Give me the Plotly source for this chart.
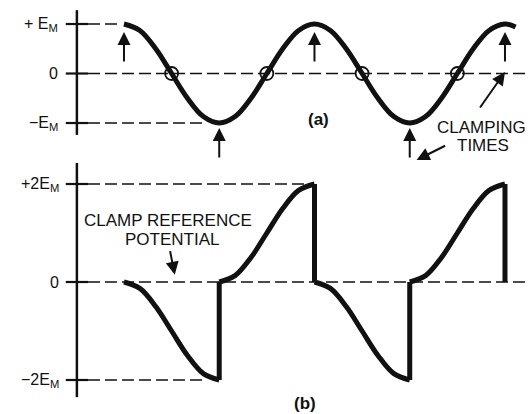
import plotly.graph_objects as go

# ---- data: phase in degrees, voltage in units of E_M ----
# (a) input sine wave
phase_a = [0, 30, 60, 90, 120, 150, 180, 210, 240, 270, 300, 330, 360,
           390, 420, 450, 480, 510, 540, 570, 600, 630, 660, 690, 720, 740]
volts_a = [1.0, 0.87, 0.5, 0.0, -0.5, -0.87, -1.0, -0.87, -0.5, 0.0, 0.5, 0.87, 1.0,
           0.87, 0.5, 0.0, -0.5, -0.87, -1.0, -0.87, -0.5, 0.0, 0.5, 0.87, 1.0, 0.94]
zero_crossings = [90, 270, 450, 630]
clamp_peaks = [0, 360, 720]
clamp_troughs = [180, 540]

# (b) clamped output: smooth runs between clamping times ...
phase_b1 = [0, 30, 60, 90, 120, 150, 180]
volts_b1 = [0.0, -0.13, -0.5, -1.0, -1.5, -1.87, -2.0]
phase_b2 = [180, 210, 240, 270, 300, 330, 360]
volts_b2 = [0.0, 0.13, 0.5, 1.0, 1.5, 1.87, 2.0]
phase_b3 = [360, 390, 420, 450, 480, 510, 540]
volts_b3 = [0.0, -0.13, -0.5, -1.0, -1.5, -1.87, -2.0]
phase_b4 = [540, 570, 600, 630, 660, 690, 720]
volts_b4 = [0.0, 0.13, 0.5, 1.0, 1.5, 1.87, 2.0]
# ... and the jumps back to the reference at each clamping time
jump_phase = [180, 360, 540, 720]
jump_from = [-2.0, 2.0, -2.0, 2.0]
jump_to = [0.0, 0.0, 0.0, 0.0]

levels_a = [1, 0, -1]
labels_a = ["+ E<sub>M</sub>", "0", "\u2212E<sub>M</sub>"]
levels_b = [2, 0, -2]
labels_b = ["+2E<sub>M</sub>", "0", "\u22122E<sub>M</sub>"]

INK = "#111111"
FONT = "Liberation Sans, Arial, sans-serif"

fig = go.Figure()

fig.add_trace(go.Scatter(x=phase_a, y=volts_a, mode="lines",
                         line=dict(color=INK, width=5, shape="spline", smoothing=1),
                         xaxis="x", yaxis="y", hoverinfo="skip"))
fig.add_trace(go.Scatter(x=zero_crossings, y=[0] * len(zero_crossings), mode="markers",
                         marker=dict(symbol="circle-open", size=13, color=INK,
                                     line=dict(width=1.8, color=INK)),
                         xaxis="x", yaxis="y", hoverinfo="skip"))
for px, vy in [(phase_b1, volts_b1), (phase_b2, volts_b2),
               (phase_b3, volts_b3), (phase_b4, volts_b4)]:
    fig.add_trace(go.Scatter(x=px, y=vy, mode="lines",
                             line=dict(color=INK, width=5, shape="spline", smoothing=1),
                             xaxis="x2", yaxis="y2", hoverinfo="skip"))
jx, jy = [], []
for p, a, b in zip(jump_phase, jump_from, jump_to):
    jx += [p, p, None]
    jy += [a, b, None]
fig.add_trace(go.Scatter(x=jx, y=jy, mode="lines", connectgaps=False,
                         line=dict(color=INK, width=5),
                         xaxis="x2", yaxis="y2", hoverinfo="skip"))

shapes = []
AXIS_X = -89
X_END = 763


def seg(x0, x1, y0, y1, yref, width=2.2, dash=None):
    d = dict(type="line", xref="x" if yref == "y" else "x2", yref=yref,
             x0=x0, x1=x1, y0=y0, y1=y1, layer="below",
             line=dict(color=INK, width=width))
    if dash:
        d["line"]["dash"] = dash
        d["line"]["width"] = 1.6
    return d


DASH = "12px,5px"
# (a) axis, ticks and reference levels
shapes.append(seg(AXIS_X, AXIS_X, -1.24, 1.28, "y", width=2.5))
for lv in levels_a:
    shapes.append(seg(-110, -68, lv, lv, "y"))
shapes.append(seg(-68, -11, 1, 1, "y", dash=DASH))
shapes.append(seg(-68, X_END, 0, 0, "y", dash=DASH))
shapes.append(seg(-68, 153, -1, -1, "y", dash=DASH))
# (b) axis, ticks and reference levels
shapes.append(seg(AXIS_X, AXIS_X, -2.35, 2.43, "y2", width=2.5))
for lv in levels_b:
    shapes.append(seg(-110, -68, lv, lv, "y2"))
shapes.append(seg(-68, 344, 2, 2, "y2", dash=DASH))
shapes.append(seg(-68, X_END, 0, 0, "y2", dash=DASH))
shapes.append(seg(-68, 153, -2, -2, "y2", dash=DASH))

annotations = []
for lv, txt in zip(levels_a, labels_a):
    annotations.append(dict(xref="paper", yref="y", x=60 / 528, y=lv, text=txt,
                            showarrow=False, xanchor="right", yanchor="middle",
                            font=dict(family=FONT, size=16, color=INK)))
for lv, txt in zip(levels_b, labels_b):
    annotations.append(dict(xref="paper", yref="y2", x=61 / 528, y=lv, text=txt,
                            showarrow=False, xanchor="right", yanchor="middle",
                            font=dict(family=FONT, size=16, color=INK)))


def arrow(x, y, ax, ay, xref="x", yref="y"):
    return dict(xref=xref, yref=yref, x=x, y=y, ax=ax, ay=ay, text="",
                showarrow=True, arrowhead=2, arrowsize=1.3, arrowwidth=2,
                arrowcolor=INK, standoff=0, startstandoff=0)


# clamping-time arrows under the peaks and troughs
for p in clamp_peaks:
    annotations.append(arrow(p, 0.84, 0, 31))
for p in clamp_troughs:
    annotations.append(arrow(p, -1.10, 0, 31))
annotations.append(arrow(720, 0.03, -26, 37))
annotations.append(arrow(553, 2.49, 30, -15, xref="x2", yref="y2"))
annotations.append(arrow(96, 0.15, -5, -25, xref="x2", yref="y2"))


def label(x, y, txt, size=15, bold=False):
    return dict(xref="paper", yref="paper", x=x / 528, y=1 - y / 414,
                text=f"<b>{txt}</b>" if bold else txt, showarrow=False,
                xanchor="center", yanchor="middle",
                font=dict(family=FONT, size=size, color=INK))


annotations.append(label(318, 120, "(a)", 17, bold=True))
annotations.append(label(481, 127, "CLAMPING", 17))
annotations.append(label(483, 145, "TIMES", 17))
annotations.append(label(168, 220, "CLAMP REFERENCE", 17))
annotations.append(label(172, 239, "POTENTIAL", 17))
annotations.append(label(305, 403, "(b)", 17, bold=True))

hidden = dict(visible=False, showgrid=False, zeroline=False)
fig.update_layout(
    width=528, height=414,
    margin=dict(l=0, r=0, t=0, b=0),
    paper_bgcolor="white", plot_bgcolor="white",
    showlegend=False,
    xaxis=dict(domain=[0, 1], range=[-234.3, 763.5], anchor="y", **hidden),
    yaxis=dict(domain=[264 / 414, 1], range=[-1.545, 1.485], anchor="x", **hidden),
    xaxis2=dict(domain=[0, 1], range=[-234.3, 763.5], anchor="y2", **hidden),
    yaxis2=dict(domain=[0, 264 / 414], range=[-2.694, 2.694], anchor="x2", **hidden),
    shapes=shapes,
    annotations=annotations,
)

fig.write_html("out.html")
